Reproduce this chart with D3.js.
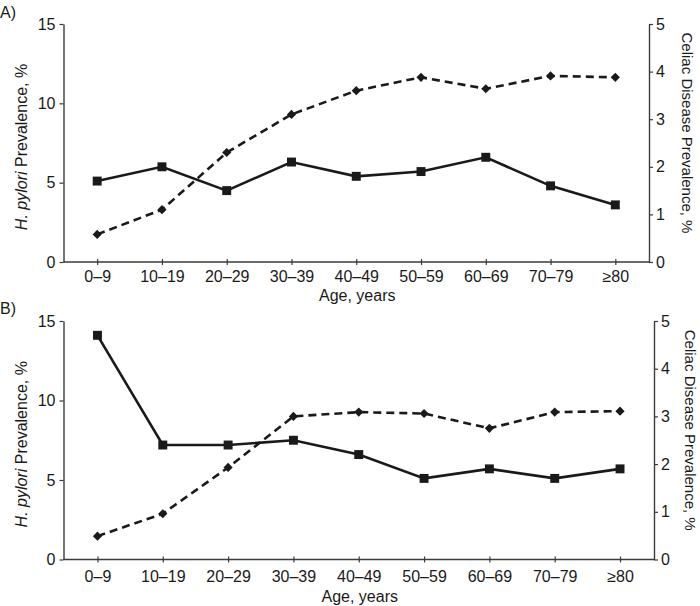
<!DOCTYPE html>
<html>
<head>
<meta charset="utf-8">
<script src="https://cdn.jsdelivr.net/npm/d3@7"></script>
<style>
  html, body { margin: 0; padding: 0; background: #fff; }
  svg { display: block; font-family: "Liberation Sans", Arial, Helvetica, sans-serif; }
</style>
</head>
<body>
<svg id="chart" width="700" height="606"></svg>
<script>
const ageGroups = ["0\u20139", "10\u201319", "20\u201329", "30\u201339", "40\u201349", "50\u201359", "60\u201369", "70\u201379", "\u226580"];
const hpyloriA = [5.1, 6.0, 4.5, 6.3, 5.4, 5.7, 6.6, 4.8, 3.6];
const celiacA = [0.58, 1.1, 2.3, 3.1, 3.6, 3.88, 3.64, 3.91, 3.88];
const hpyloriB = [14.1, 7.2, 7.2, 7.5, 6.6, 5.1, 5.7, 5.1, 5.7];
const celiacB = [0.49, 0.96, 1.93, 3.0, 3.09, 3.06, 2.75, 3.09, 3.11];
const leftTicks = [0, 5, 10, 15];
const rightTicks = [0, 1, 2, 3, 4, 5];
const panelLabels = ["A)", "B)"];
const leftTitleItalic = "H. pylori";
const leftTitleRest = " Prevalence, %";
const rightTitle = "Celiac Disease Prevalence, %";
const xTitle = "Age, years";

const svg = d3.select("#chart");
const ink = "#1a1a1a";
const axisInk = "#3a3a3a";

const panels = [
  { label: panelLabels[0], hp: hpyloriA, cd: celiacA, left: 63.5, right: 649, top: 24, bottom: 262, labelY: 18, xTitleY: 301, rightTitleX: 687, tickPad: 6 },
  { label: panelLabels[1], hp: hpyloriB, cd: celiacB, left: 63.5, right: 654, top: 321, bottom: 559.5, labelY: 314, xTitleY: 602, rightTitleX: 690, tickPad: 8 }
];

panels.forEach(p => {
  const g = svg.append("g");
  const x = d3.scalePoint().domain(ageGroups).range([p.left, p.right]).padding(0.52);
  const yL = d3.scaleLinear().domain([0, 15]).range([p.bottom, p.top]);
  const yR = d3.scaleLinear().domain([0, 5]).range([p.bottom, p.top]);

  // panel label
  g.append("text").attr("x", 0).attr("y", p.labelY).attr("font-size", 16).attr("fill", ink).text(p.label);

  // left axis
  const gl = g.append("g").attr("transform", `translate(${p.left},0)`)
    .call(d3.axisLeft(yL).tickValues(leftTicks).tickFormat(d3.format("d")).tickSizeInner(4).tickSizeOuter(0).tickPadding(4));
  // right axis
  const gr = g.append("g").attr("transform", `translate(${p.right},0)`)
    .call(d3.axisRight(yR).tickValues(rightTicks).tickFormat(d3.format("d")).tickSizeInner(4).tickSizeOuter(0).tickPadding(3));
  // bottom axis
  const gb = g.append("g").attr("transform", `translate(0,${p.bottom})`)
    .call(d3.axisBottom(x).tickSizeInner(3).tickSizeOuter(0).tickPadding(p.tickPad));
  gb.selectAll(".tick line").attr("y1", -3).attr("y2", 3);
  gb.select(".domain").attr("d", `M${p.left},0H${p.right}`);

  [gl, gr, gb].forEach(a => {
    a.selectAll(".domain").attr("stroke", axisInk).attr("stroke-width", 1.4);
    a.selectAll(".tick line").attr("stroke", axisInk).attr("stroke-width", 1.2);
    a.selectAll(".tick text").attr("font-size", 16).attr("fill", ink).attr("font-family", "Liberation Sans, Arial, sans-serif");
  });

  // axis titles
  const lt = g.append("text")
    .attr("transform", `translate(27,${(p.top + p.bottom) / 2 + 4}) rotate(-90)`)
    .attr("text-anchor", "middle").attr("font-size", 16).attr("fill", ink);
  lt.append("tspan").attr("font-style", "italic").text(leftTitleItalic);
  lt.append("tspan").text(leftTitleRest);

  g.append("text")
    .attr("transform", `translate(${p.rightTitleX - 5.5},${(p.top + p.bottom) / 2 - 10}) rotate(90)`)
    .attr("text-anchor", "middle").attr("font-size", 15).attr("fill", ink)
    .text(rightTitle);

  g.append("text").attr("x", (p.left + p.right) / 2 + 1).attr("y", p.xTitleY)
    .attr("text-anchor", "middle").attr("font-size", 16).attr("fill", ink).text(xTitle);

  // celiac series (dashed, diamonds, right axis)
  const lineR = d3.line().x((d, i) => x(ageGroups[i])).y(d => yR(d));
  g.append("path").datum(p.cd).attr("d", lineR).attr("fill", "none")
    .attr("stroke", ink).attr("stroke-width", 2.6).attr("stroke-dasharray", "8,5");
  g.selectAll(".dia").data(p.cd).enter().append("path")
    .attr("d", d3.symbol().type(d3.symbolSquare).size(42)())
    .attr("transform", (d, i) => `translate(${x(ageGroups[i])},${yR(d)}) rotate(45)`)
    .attr("fill", ink);

  // H. pylori series (solid, squares, left axis)
  const lineL = d3.line().x((d, i) => x(ageGroups[i])).y(d => yL(d));
  g.append("path").datum(p.hp).attr("d", lineL).attr("fill", "none")
    .attr("stroke", ink).attr("stroke-width", 2.6);
  g.selectAll(".sq").data(p.hp).enter().append("path")
    .attr("d", d3.symbol().type(d3.symbolSquare).size(80)())
    .attr("transform", (d, i) => `translate(${x(ageGroups[i])},${yL(d)})`)
    .attr("fill", ink);
});
</script>
</body>
</html>
